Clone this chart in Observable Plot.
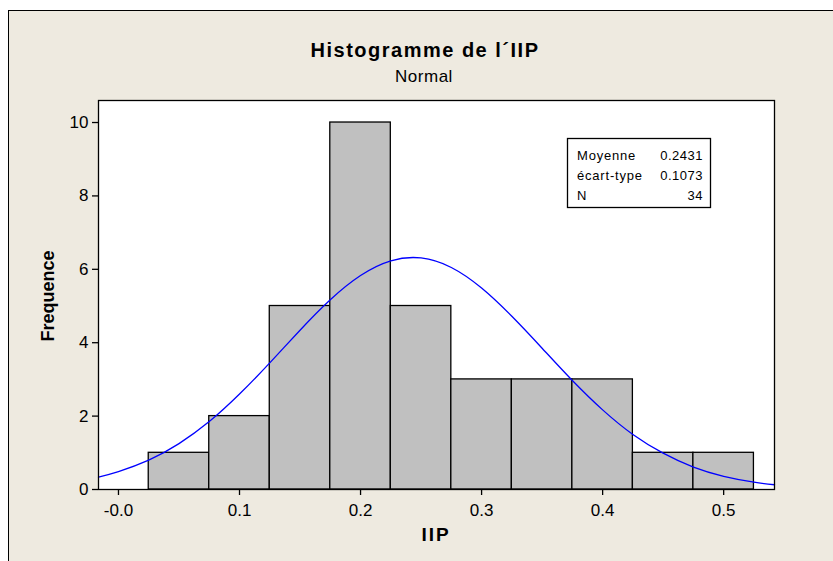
<!DOCTYPE html>
<html>
<head>
<meta charset="utf-8">
<script src="https://cdn.jsdelivr.net/npm/d3@7"></script>
<script src="https://cdn.jsdelivr.net/npm/@observablehq/plot@0.6"></script>
<style>
  body { margin: 0; background: #ffffff; }
  #wrap { position: relative; width: 833px; height: 561px; overflow: hidden; font-family: "Liberation Sans", Arial, sans-serif; }
  #panel { position: absolute; left: 8px; top: 10px; width: 900px; height: 700px; background: #EEEAE0; border: 1px solid #000; }
  #chart, #overlay { position: absolute; left: 0; top: 0; }
</style>
</head>
<body>
<div id="wrap">
  <div id="panel"></div>
  <div id="chart"></div>
  <svg id="overlay" width="833" height="561"></svg>
</div>
<script>
// ---- data ----
const title = "Histogramme de l\u00B4IIP";
const subtitle = "Normal";
const xLabel = "IIP";
const yLabel = "Frequence";

const binCenters = [0.05, 0.10, 0.15, 0.20, 0.25, 0.30, 0.35, 0.40, 0.45, 0.50];
const binCounts  = [1, 2, 5, 10, 5, 3, 3, 3, 1, 1];
const binWidth = 0.05;

// fitted normal curve
const curveX = [-0.0165, 0, 0.025, 0.05, 0.075, 0.1, 0.125, 0.15, 0.175, 0.2, 0.225, 0.25, 0.275, 0.3, 0.325, 0.35, 0.375, 0.4, 0.425, 0.45, 0.475, 0.5, 0.525, 0.542];
const curveY = [0.34, 0.49, 0.80, 1.25, 1.85, 2.60, 3.45, 4.34, 5.17, 5.83, 6.23, 6.31, 6.05, 5.49, 4.72, 3.85, 2.97, 2.17, 1.50, 0.99, 0.61, 0.36, 0.20, 0.13];

const xTicks = [0, 0.1, 0.2, 0.3, 0.4, 0.5];
const xTickLabels = ["-0.0", "0.1", "0.2", "0.3", "0.4", "0.5"];
const yTicks = [0, 2, 4, 6, 8, 10];

const statLabels = ["Moyenne", "\u00E9cart-type", "N"];
const statValues = ["0.2431", "0.1073", "34"];

// ---- build ----
const bins = binCenters.map((c, i) => ({x1: c - binWidth / 2, x2: c + binWidth / 2, count: binCounts[i]}));
const curve = curveX.map((x, i) => ({x, y: curveY[i]}));

const chart = Plot.plot({
  width: 833,
  height: 561,
  marginLeft: 98,
  marginRight: 59,
  marginTop: 100,
  marginBottom: 72,
  style: {background: "transparent", fontFamily: "Liberation Sans, Arial, sans-serif", fontSize: "17px", color: "#000"},
  x: {domain: [-0.0165, 0.542]},
  y: {domain: [0, 10.6]},
  marks: [
    Plot.frame({fill: "white"}),
    Plot.rect(bins, {x1: "x1", x2: "x2", y1: d => 0, y2: "count", fill: "#C0C0C0", stroke: "#000", strokeWidth: 1.3}),
    Plot.line(curve, {x: "x", y: "y", stroke: "#0000FF", strokeWidth: 1.3, curve: "natural"}),
    Plot.frame({stroke: "#000", strokeWidth: 1.3}),
    Plot.axisX({ticks: xTicks, tickFormat: (d, i) => xTickLabels[xTicks.indexOf(d)], tickSize: 6, tickPadding: 8, strokeWidth: 1.3, fill: "#000", label: null}),
    Plot.axisY({ticks: yTicks, tickSize: 6, tickPadding: 4, strokeWidth: 1.3, fill: "#000", label: null})
  ]
});
document.getElementById("chart").appendChild(chart);

// ---- titles, axis labels and stats box ----
const ov = d3.select("#overlay").style("font-family", "Liberation Sans, Arial, sans-serif");
ov.append("text").attr("x", 425).attr("y", 57).attr("text-anchor", "middle")
  .style("font-size", "20px").style("font-weight", "bold").style("letter-spacing", "1.5px").text(title);
ov.append("text").attr("x", 424).attr("y", 82).attr("text-anchor", "middle")
  .style("font-size", "17px").style("letter-spacing", "0.5px").text(subtitle);
ov.append("text").attr("x", 436).attr("y", 541).attr("text-anchor", "middle")
  .style("font-size", "19px").style("font-weight", "bold").style("letter-spacing", "2px").text(xLabel);
ov.append("text").attr("transform", "translate(54,296) rotate(-90)").attr("text-anchor", "middle")
  .style("font-size", "18px").style("font-weight", "bold").text(yLabel);

ov.append("rect").attr("x", 567.5).attr("y", 138.5).attr("width", 143).attr("height", 69)
  .attr("fill", "white").attr("stroke", "#000").attr("stroke-width", 1.3);
statLabels.forEach((s, i) => {
  const yy = 160 + i * 20;
  ov.append("text").attr("x", 577).attr("y", yy).style("font-size", "13px").style("letter-spacing", "0.8px").text(s);
  ov.append("text").attr("x", 703).attr("y", yy).attr("text-anchor", "end").style("font-size", "13px").style("letter-spacing", "0.5px").text(statValues[i]);
});
</script>
</body>
</html>
